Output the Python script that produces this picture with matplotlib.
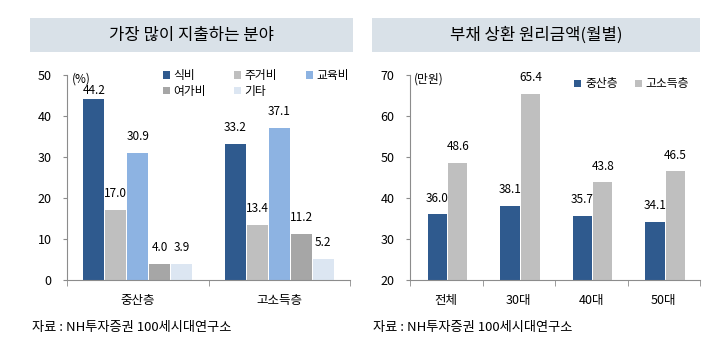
import numpy as np
import matplotlib
matplotlib.use('Agg')
from matplotlib import pyplot as plt
from matplotlib.patches import Rectangle

plt.rcParams['font.family'] = ['Noto Sans CJK KR', 'DejaVu Sans']

# left chart: spending area by group (%)
groups = ['중산층', '고소득층']
spend_items = ['식비', '주거비', '교육비', '여가비', '기타']
spend_vals = {
    '식비': [44.2, 33.2],
    '주거비': [17.0, 13.4],
    '교육비': [30.9, 37.1],
    '여가비': [4.0, 11.2],
    '기타': [3.9, 5.2],
}
spend_colors = ['#2F5A8E', '#BFBFBF', '#8DB3E2', '#A6A6A6', '#DCE6F2']

# right chart: monthly debt repayment (10k won)
ages = ['전체', '30대', '40대', '50대']
series = ['중산층', '고소득층']
debt_mid = [36.0, 38.1, 35.7, 34.1]
debt_high = [48.6, 65.4, 43.8, 46.5]
debt_colors = ['#2F5A8E', '#BFBFBF']

W, H = 720, 363
fig = plt.figure(figsize=(W / 100, H / 100), dpi=100)


def px_axes(x0, y0, x1, y1):
    return fig.add_axes([x0 / W, 1 - y1 / H, (x1 - x0) / W, (y1 - y0) / H])


def style_axes(ax):
    for s in ['top', 'right']:
        ax.spines[s].set_visible(False)
    for s in ['left', 'bottom']:
        ax.spines[s].set_color('#8C8C8C')
        ax.spines[s].set_linewidth(0.8)
    ax.tick_params(axis='y', length=3, color='#8C8C8C', labelsize=9, pad=8)
    ax.tick_params(axis='x', length=0, labelsize=9, pad=10)


# title boxes
for (x0, x1, txt) in [(30, 353, '가장 많이 지출하는 분야'), (372, 700, '부채 상환 원리금액(월별)')]:
    fig.patches.append(Rectangle((x0 / W, 1 - 52 / H), (x1 - x0) / W, 34 / H,
                                 transform=fig.transFigure, facecolor='#D9E1E8',
                                 edgecolor='none', zorder=0))
    fig.text((x0 + x1) / 2 / W, 1 - 35 / H, txt, ha='center', va='center', fontsize=12)

# ---- left chart
ax1 = px_axes(67, 75, 350, 280)
x = np.arange(len(groups))
bw = 0.155
for i, item in enumerate(spend_items):
    pos = x + (i - 2) * bw
    ax1.bar(pos, spend_vals[item], width=bw * 0.96, color=spend_colors[i], label=item)
    for p, v in zip(pos, spend_vals[item]):
        ax1.text(p, min(v + 2.4, 44.6), f'{v:.1f}', ha='center', va='bottom', fontsize=8.5)
ax1.set_xlim(-0.5, 1.5)
ax1.set_ylim(0, 50)
ax1.set_yticks(range(0, 51, 10))
ax1.set_xticks(x)
ax1.set_xticklabels(groups)
ax1.set_xticks([-0.5, 0.5, 1.5], minor=True)
ax1.tick_params(axis='x', which='minor', length=4, color='#8C8C8C', direction='out')
style_axes(ax1)
h, l = ax1.get_legend_handles_labels()
order = [0, 3, 1, 4, 2]
ax1.legend([h[k] for k in order], [l[k] for k in order], ncol=3, frameon=False,
           fontsize=8.5, loc='upper left', bbox_to_anchor=(0.3, 1.08),
           handlelength=0.6, handleheight=0.6, handletextpad=0.3,
           columnspacing=2.4, labelspacing=0.2)

# ---- right chart
ax2 = px_axes(410, 75, 700, 280)
x2 = np.arange(len(ages))
bw2 = 0.28
for j, (name, vals) in enumerate([(series[0], debt_mid), (series[1], debt_high)]):
    pos = x2 + (j - 0.5) * bw2 + 0.02
    ax2.bar(pos, np.array(vals) - 20, bottom=20, width=bw2 * 0.95,
            color=debt_colors[j], label=name)
    for p, v in zip(pos, vals):
        ax2.text(p, v + 2.4, f'{v:.1f}', ha='center', va='bottom', fontsize=8.5)
ax2.set_xlim(-0.5, 3.5)
ax2.set_ylim(20, 70)
ax2.set_yticks(range(20, 71, 10))
ax2.set_xticks(x2)
ax2.set_xticklabels(ages)
ax2.set_xticks([-0.5, 0.5, 1.5, 2.5, 3.5], minor=True)
ax2.tick_params(axis='x', which='minor', length=4, color='#8C8C8C', direction='out')
style_axes(ax2)
ax2.legend(ncol=2, frameon=False, fontsize=8.5, loc='upper right',
           bbox_to_anchor=(1.0, 1.04), handlelength=0.6, handleheight=0.6,
           handletextpad=0.3, columnspacing=1.5)

# unit labels
fig.text(72 / W, 1 - 79 / H, '(%)', fontsize=8.5, va='center')
fig.text(414 / W, 1 - 79 / H, '(만원)', fontsize=8.5, va='center')

# source notes
fig.text(32 / W, 1 - 328 / H, '자료 : NH투자증권 100세시대연구소', fontsize=9.5, va='center')
fig.text(373 / W, 1 - 328 / H, '자료 : NH투자증권 100세시대연구소', fontsize=9.5, va='center')

fig.savefig('out.png', dpi=100)
